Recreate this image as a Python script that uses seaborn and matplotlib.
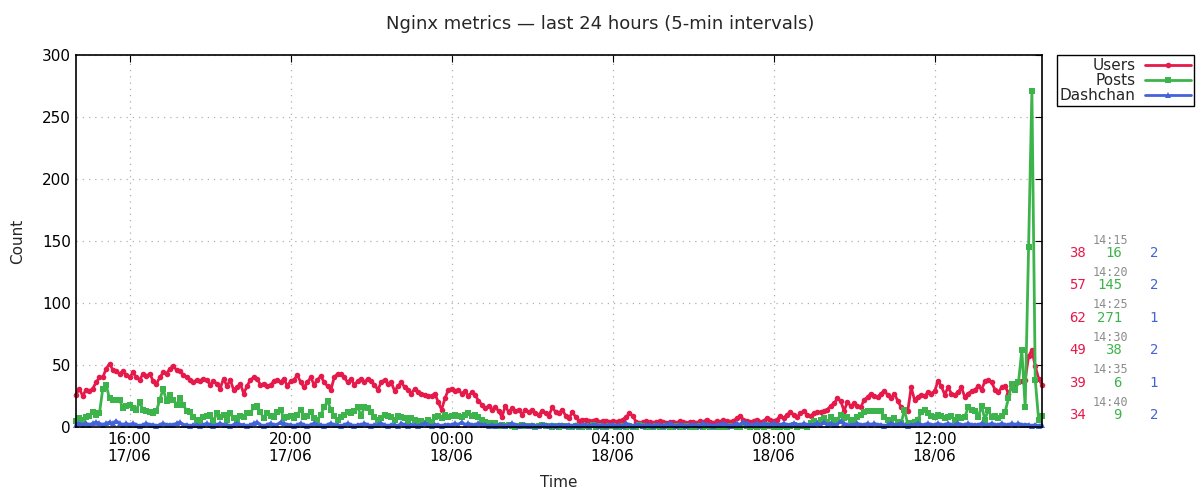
import matplotlib
matplotlib.use("Agg")
import matplotlib.pyplot as plt
import matplotlib.dates as mdates
import seaborn as sns
import pandas as pd
import numpy as np

# 5-minute samples, 14:40 17/06 -> 14:40 18/06
start = "2024-06-17 14:40"

users = [
    26, 31, 25, 30,
    29, 31, 36, 40, 40, 47, 51, 46, 45, 43, 45, 42,
    40, 44, 40, 38, 43, 41, 43, 37, 35, 40, 44, 43,
    47, 49, 46, 45, 42, 40, 38, 36, 38, 37, 39, 38,
    34, 37, 35, 31, 39, 33, 38, 30, 32, 35, 27, 33,
    38, 40, 39, 34, 35, 33, 34, 37, 38, 36, 39, 33,
    37, 38, 42, 36, 32, 36, 40, 34, 38, 41, 36, 33,
    30, 40, 43, 43, 40, 36, 39, 34, 37, 39, 36, 39,
    37, 34, 30, 36, 38, 35, 36, 29, 33, 36, 32, 30,
    27, 31, 28, 27, 26, 25, 25, 27, 20, 14, 23, 30,
    31, 29, 30, 27, 29, 25, 28, 26, 21, 18, 15, 17,
    14, 16, 13, 8, 17, 12, 15, 13, 14, 10, 14, 12,
    14, 11, 10, 13, 11, 9, 16, 12, 11, 14, 9, 7,
    12, 8, 5, 6, 6, 5, 5, 6, 4, 5, 5, 4,
    5, 4, 5, 6, 8, 11, 9, 4, 3, 4, 5, 4,
    3, 4, 5, 4, 3, 4, 4, 3, 5, 4, 3, 4,
    4, 3, 5, 4, 6, 4, 3, 5, 4, 6, 5, 4,
    5, 7, 9, 6, 5, 4, 5, 6, 4, 5, 7, 6,
    5, 6, 9, 7, 10, 12, 10, 8, 11, 13, 10, 9,
    11, 12, 12, 13, 14, 17, 19, 23, 21, 13, 20, 17,
    19, 17, 16, 22, 24, 27, 25, 24, 27, 29, 26, 23,
    27, 21, 16, 14, 13, 32, 22, 24, 26, 25, 28, 27,
    29, 37, 33, 26, 32, 27, 26, 28, 32, 24, 27, 29,
    30, 33, 30, 37, 38, 36, 30, 28, 32, 33, 27, 32,
    35, 36, 37, 38, 57, 62, 49, 39, 34,
]

posts = [
    5, 7, 6, 8,
    9, 12, 10, 11, 31, 34, 23, 22, 22, 22, 15, 17,
    18, 15, 14, 20, 14, 13, 12, 11, 13, 22, 31, 21,
    26, 22, 18, 23, 18, 13, 12, 8, 6, 5, 8, 9,
    10, 5, 11, 8, 10, 6, 11, 7, 6, 9, 8, 11,
    11, 16, 17, 12, 7, 11, 9, 8, 12, 14, 7, 8,
    9, 7, 10, 14, 8, 9, 12, 7, 6, 10, 16, 21,
    14, 9, 6, 8, 10, 12, 11, 13, 16, 9, 16, 15,
    12, 8, 6, 7, 10, 9, 8, 6, 9, 8, 7, 5,
    7, 6, 4, 5, 3, 6, 4, 8, 9, 7, 10, 8,
    9, 10, 9, 8, 10, 11, 9, 10, 8, 6, 4, 3,
    2, 3, 1, 2, 1, 2, 1, 0, 1, 2, 1, 1,
    1, 0, 1, 2, 1, 1, 0, 1, 0, 1, 1, 0,
    0, 1, 0, 0, 1, 0, 2, 0, 1, 0, 0, 1,
    1, 0, 0, 1, 0, 1, 0, 0, 2, 1, 0, 0,
    0, 1, 0, 0, 1, 0, 0, 1, 0, 0, 1, 0,
    0, 0, 1, 0, 1, 0, 0, 0, 1, 0, 0, 1,
    1, 0, 0, 2, 1, 0, 1, 0, 1, 0, 2, 1,
    0, 1, 0, 1, 0, 1, 2, 0, 1, 1, 0, 3,
    5, 3, 6, 7, 4, 8, 5, 6, 10, 7, 8, 6,
    4, 8, 10, 12, 13, 13, 13, 13, 13, 8, 6, 5,
    7, 4, 3, 14, 2, 3, 4, 6, 12, 14, 11, 9,
    8, 10, 9, 7, 8, 9, 6, 8, 7, 8, 16, 14,
    13, 8, 17, 6, 14, 8, 9, 7, 9, 12, 23, 35,
    30, 36, 62, 16, 145, 271, 38, 6, 9,
]

dashchan = [
    2, 3, 2, 3,
    2, 3, 4, 3, 2, 3, 4, 3, 5, 3, 2, 3,
    2, 3, 2, 1, 2, 3, 2, 2, 1, 2, 3, 2,
    2, 2, 3, 4, 2, 2, 1, 2, 2, 1, 2, 3,
    2, 1, 2, 3, 2, 2, 1, 2, 3, 2, 2, 1,
    2, 3, 4, 2, 1, 2, 3, 2, 2, 4, 3, 2,
    2, 1, 2, 3, 2, 1, 2, 3, 2, 2, 1, 2,
    3, 2, 2, 1, 2, 3, 2, 1, 2, 2, 3, 2,
    1, 2, 2, 3, 2, 1, 2, 2, 1, 3, 2, 1,
    2, 2, 1, 2, 3, 2, 1, 2, 2, 1, 2, 2,
    2, 3, 2, 4, 2, 3, 2, 2, 3, 2, 2, 1,
    2, 1, 2, 2, 1, 2, 3, 2, 1, 2, 2, 1,
    2, 1, 1, 2, 2, 1, 2, 1, 2, 2, 1, 2,
    1, 2, 1, 2, 2, 1, 2, 2, 1, 2, 1, 2,
    2, 1, 2, 1, 3, 2, 1, 2, 2, 1, 2, 2,
    1, 2, 2, 1, 2, 3, 2, 1, 2, 2, 1, 2,
    2, 2, 1, 3, 2, 2, 1, 2, 2, 3, 2, 1,
    2, 3, 2, 4, 3, 2, 2, 3, 2, 3, 2, 2,
    3, 2, 2, 3, 2, 2, 3, 2, 2, 3, 2, 2,
    2, 3, 2, 4, 2, 3, 2, 2, 5, 3, 2, 2,
    2, 3, 2, 2, 3, 2, 3, 2, 2, 1, 2, 3,
    2, 2, 3, 2, 1, 2, 2, 3, 2, 2, 3, 2,
    2, 3, 2, 2, 3, 2, 2, 3, 2, 2, 3, 2,
    2, 2, 3, 2, 2, 3, 2, 2, 3, 2, 2, 3,
    2, 3, 2, 2, 2, 1, 2, 1, 2,
]

series_names = ["Users", "Posts", "Dashchan"]
colors = {"Users": "#e6194b", "Posts": "#3cb44b", "Dashchan": "#4363d8"}
markers = {"Users": "o", "Posts": "s", "Dashchan": "^"}
msizes = {"Users": 4, "Posts": 3.8, "Dashchan": 3.8}

times = pd.date_range(start, periods=len(users), freq="5min")
df = pd.DataFrame({"time": times, "Users": users, "Posts": posts, "Dashchan": dashchan})

sns.set_style("white")
plt.rcParams["font.family"] = ["DejaVu Sans"]

fig = plt.figure(figsize=(12, 5), dpi=100)
ax = fig.add_axes([0.0633, 0.146, 0.805, 0.744])

for name in series_names:
    sns.lineplot(data=df, x="time", y=name, ax=ax, color=colors[name],
                 marker=markers[name], markersize=msizes[name], markeredgewidth=0,
                 linewidth=2, label=name, clip_on=False)

ax.set_ylim(0, 300)
ax.set_yticks(np.arange(0, 301, 50))
ax.set_xlim(times[0], times[-1])
ax.xaxis.set_major_locator(mdates.HourLocator(byhour=[0, 4, 8, 12, 16, 20]))
ax.xaxis.set_major_formatter(mdates.DateFormatter("%H:%M\n%d/%m"))
ax.tick_params(direction="in", top=True, right=True, length=5, labelsize=11, colors="black")
ax.grid(True, linestyle=(0, (1, 4)), color="#b0b0b0", linewidth=0.9)
for sp in ax.spines.values():
    sp.set_color("black")
    sp.set_linewidth(1.2)

ax.set_xlabel("Time", fontsize=11, labelpad=8)
ax.set_ylabel("Count", fontsize=11, labelpad=12)
fig.suptitle("Nginx metrics — last 24 hours (5-min intervals)", fontsize=13, y=0.97)

leg = ax.legend(loc="upper left", bbox_to_anchor=(1.0155, 1.0), borderaxespad=0,
                markerfirst=False, frameon=True, fancybox=False, edgecolor="black",
                framealpha=1, fontsize=11, handlelength=3.0, labelspacing=0.0,
                borderpad=0.2, handletextpad=0.6)
leg.get_frame().set_linewidth(1.0)

# latest values block on the right
tail = df.tail(6).reset_index(drop=True)
mono = "DejaVu Sans Mono"
for i, row in tail.iterrows():
    ty = 240 + i * 32.4
    vy = ty + 13
    fig.text(1110 / 1200, 1 - ty / 500, row["time"].strftime("%H:%M"), ha="center", va="center",
             family=mono, fontsize=8.5, color="#8c8c8c")
    fig.text(1086 / 1200, 1 - vy / 500, str(row["Users"]), ha="right", va="center",
             family=mono, fontsize=10, color=colors["Users"])
    fig.text(1122 / 1200, 1 - vy / 500, str(row["Posts"]), ha="right", va="center",
             family=mono, fontsize=10, color=colors["Posts"])
    fig.text(1158 / 1200, 1 - vy / 500, str(row["Dashchan"]), ha="right", va="center",
             family=mono, fontsize=10, color=colors["Dashchan"])

fig.savefig("out.png", dpi=100)
plt.close(fig)
